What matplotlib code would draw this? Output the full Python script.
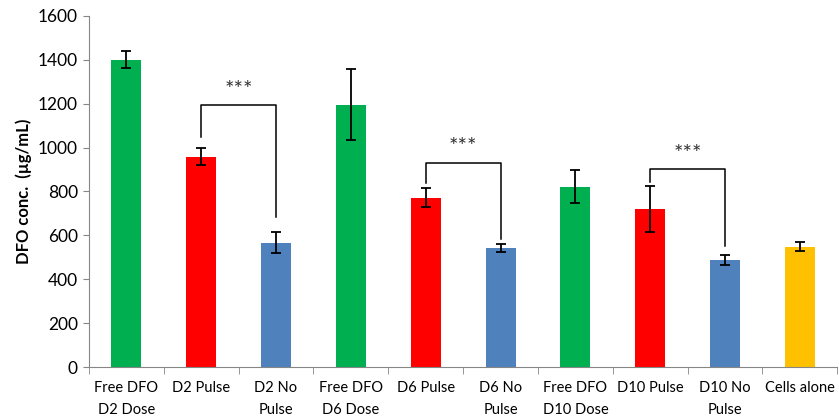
import numpy as np
import matplotlib.pyplot as plt

labels = ["Free DFO\nD2 Dose", "D2 Pulse", "D2 No\nPulse", "Free DFO\nD6 Dose", "D6 Pulse",
          "D6 No\nPulse", "Free DFO\nD10 Dose", "D10 Pulse", "D10 No\nPulse", "Cells alone"]
values = [1400, 958, 566, 1196, 772, 541, 822, 721, 489, 548]
errors = [38, 39, 48, 160, 42, 19, 74, 106, 23, 20]
colors = ["#00B050", "#FF0000", "#4F81BD", "#00B050", "#FF0000",
          "#4F81BD", "#00B050", "#FF0000", "#4F81BD", "#FFC000"]

# significance brackets: (left bar, right bar, top, left leg end, right leg end)
brackets = [(1, 2, 1194, 1050, 685), (4, 5, 931, 837, 582), (7, 8, 902, 845, 551)]
star_offset = 70

plt.rcParams['font.family'] = ['Lato', 'DejaVu Sans']

fig = plt.figure(figsize=(8.39, 4.19), dpi=100)
ax = fig.add_axes([0.106, 0.124, 0.892, 0.838])

x = np.arange(len(labels))
ax.bar(x, values, width=0.4, color=colors, zorder=2)
ax.errorbar(x, values, yerr=errors, fmt="none", ecolor="black",
            elinewidth=1.3, capsize=3.3, capthick=1.3, zorder=3)

for a, b, top, ya, yb in brackets:
    ax.plot([a, a, b, b], [ya, top, top, yb], color="black", lw=1.1, zorder=3)
    ax.text((a + b) / 2, top + star_offset, "***", ha="center", va="center",
            fontsize=16, color="#333333")

ax.set_xlim(-0.5, len(labels) - 0.5)
ax.set_ylim(0, 1600)
ax.set_yticks(np.arange(0, 1601, 200))
ax.tick_params(axis="y", labelsize=12.5, length=4, color="#868686", pad=4)

ax.set_xticks(x)
ax.set_xticklabels(labels, fontsize=10.5, linespacing=1.7)
ax.tick_params(axis="x", length=0, pad=10)
ax.set_xticks(np.arange(-0.5, len(labels)), minor=True)
ax.tick_params(axis="x", which="minor", length=5, color="#868686")

for side in ["top", "right"]:
    ax.spines[side].set_visible(False)
for side in ["left", "bottom"]:
    ax.spines[side].set_color("#868686")

ax.set_ylabel("DFO conc.  (µg/mL)", fontsize=12, fontweight="bold", labelpad=4)

fig.savefig("out.png", dpi=100)
